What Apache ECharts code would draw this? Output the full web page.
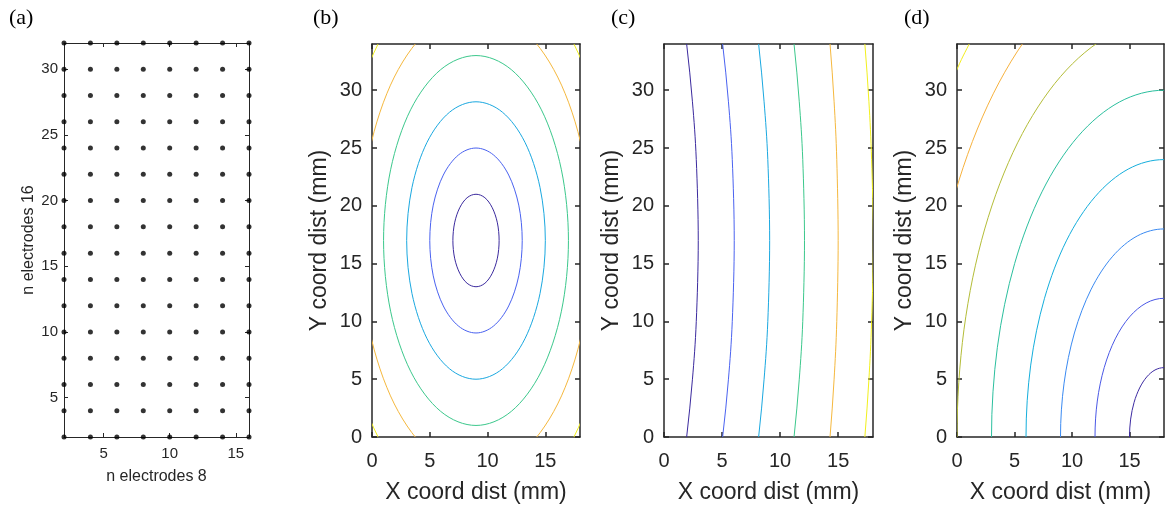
<!DOCTYPE html>
<html><head><meta charset="utf-8">
<script src="https://cdn.jsdelivr.net/npm/echarts@6/dist/echarts.min.js"></script>
<style>html,body{margin:0;padding:0;background:#fff}#c{width:1168px;height:506px}</style>
</head><body><div id="c"></div>
<script>
// ---------- data ----------
const electrodeX = [2, 4, 6, 8, 10, 12, 14, 16];
const electrodeY = [2, 4, 6, 8, 10, 12, 14, 16, 18, 20, 22, 24, 26, 28, 30, 32];
const aTicksX = [5, 10, 15];
const aTicksY = [5, 10, 15, 20, 25, 30];
const distTicksX = [0, 5, 10, 15];
const distTicksY = [0, 5, 10, 15, 20, 25, 30];
const panelLabels = ['(a)', '(b)', '(c)', '(d)'];

// panel (b): closed contours around (9,17)
const bContour1 = [[11,17],[10.85,18.53],[10.41,19.83],[9.77,20.7],[9,21],[8.23,20.7],[7.59,19.83],[7.15,18.53],[7,17],[7.15,15.47],[7.59,14.17],[8.23,13.3],[9,13],[9.77,13.3],[10.41,14.17],[10.85,15.47],[11,17]];
const bContour2 = [[13,17],[12.7,20.06],[11.83,22.66],[10.53,24.39],[9,25],[7.47,24.39],[6.17,22.66],[5.3,20.06],[5,17],[5.3,13.94],[6.17,11.34],[7.47,9.61],[9,9],[10.53,9.61],[11.83,11.34],[12.7,13.94],[13,17]];
const bContour3 = [[15,17],[14.54,21.59],[13.24,25.49],[11.3,28.09],[9,29],[6.7,28.09],[4.76,25.49],[3.46,21.59],[3,17],[3.46,12.41],[4.76,8.51],[6.7,5.91],[9,5],[11.3,5.91],[13.24,8.51],[14.54,12.41],[15,17]];
const bContour4 = [[17,17],[16.39,23.12],[14.66,28.31],[12.06,31.78],[9,33],[5.94,31.78],[3.34,28.31],[1.61,23.12],[1,17],[1.61,10.88],[3.34,5.69],[5.94,2.22],[9,1],[12.06,2.22],[14.66,5.69],[16.39,10.88],[17,17]];
const bContour5 = [[19,17],[18.24,24.65],[16.07,31.14],[12.83,35.48],[9,37],[5.17,35.48],[1.93,31.14],[-0.24,24.65],[-1,17],[-0.24,9.35],[1.93,2.86],[5.17,-1.48],[9,-3],[12.83,-1.48],[16.07,2.86],[18.24,9.35],[19,17]];
const bContour6UL = [[2.05,36.5],[1.29,35.38],[0.51,33.97],[-0.19,32.43],[-0.83,30.77],[-1.4,29]];
const bContour6UR = [[15.95,36.5],[16.71,35.38],[17.49,33.97],[18.19,32.43],[18.83,30.77],[19.4,29]];
const bContour6LL = [[2.05,-2.5],[1.29,-1.38],[0.51,0.03],[-0.19,1.57],[-0.83,3.23],[-1.4,5]];
const bContour6LR = [[15.95,-2.5],[16.71,-1.38],[17.49,0.03],[18.19,1.57],[18.83,3.23],[19.4,5]];

// panel (c): near-vertical contours (ends continue just past the frame)
const cContour1 = [[1.28,-5],[1.95,0],[2.45,5],[2.78,10],[2.95,17],[2.78,24],[2.45,29],[1.95,34],[1.28,39]];
const cContour2 = [[4.38,-5],[5.05,0],[5.55,5],[5.88,10],[6.05,17],[5.88,24],[5.55,29],[5.05,34],[4.38,39]];
const cContour3 = [[7.51,-5],[8.15,0],[8.62,5],[8.94,10],[9.1,17],[8.94,24],[8.62,29],[8.15,34],[7.51,39]];
const cContour4 = [[10.59,-5],[11.2,0],[11.65,5],[11.95,10],[12.1,17],[11.95,24],[11.65,29],[11.2,34],[10.59,39]];
const cContour5 = [[13.83,-5],[14.3,0],[14.65,5],[14.88,10],[15.0,17],[14.88,24],[14.65,29],[14.3,34],[13.83,39]];
const cContour6 = [[16.86,-5],[17.3,0],[17.65,5],[17.88,10],[18.03,17],[17.88,24],[17.65,29],[17.3,34],[16.86,39]];

// panel (d): contours around the lower-right corner (18,0)
const dContour1 = [[18.78,5.8],[18,6],[17.22,5.8],[16.5,5.2],[15.88,4.24],[15.4,3],[15.1,1.55],[15,0],[15.1,-1.55]];
const dContour2 = [[19.55,11.59],[18,12],[16.45,11.59],[15,10.39],[13.76,8.49],[12.8,6],[12.2,3.11],[12,0],[12.2,-3.11]];
const dContour3 = [[20.33,17.39],[18,18],[15.67,17.39],[13.5,15.59],[11.64,12.73],[10.21,9],[9.31,4.66],[9,0],[9.31,-4.66]];
const dContour4 = [[21.11,23.18],[18,24],[14.89,23.18],[12,20.78],[9.51,16.97],[7.61,12],[6.41,6.22],[6,0],[6.41,-6.22]];
const dContour5 = [[21.88,28.98],[18,30],[14.12,28.98],[10.5,25.98],[7.39,21.21],[5.01,15],[3.51,7.76],[3,0],[3.51,-7.76]];
const dContour6 = [[22.66,34.78],[18,36],[13.34,34.78],[9,31.18],[5.27,25.45],[2.41,18],[0.61,9.32],[0,0],[0.61,-9.32]];
const dContour7 = [[18,42],[12.56,40.57],[7.5,36.37],[3.15,29.69],[-0.19,21],[-2.29,10.87],[-3,0]];
const dContour8 = [[18,48],[11.78,46.37],[6,41.57],[2.57,36.77],[1.03,33.94],[-0.38,30.85],[-2.78,24],[-5.18,12.43],[-6,0]];

// ---------- styles ----------
const FONT = '"Liberation Sans", Arial, Helvetica, sans-serif';
const INK = '#262626';
const palette6 = ['#3b2a9e', '#4a62f0', '#1aa8e0', '#3cc88c', '#f5b83e', '#f2f01c'];
const palette8 = ['#3d2ba2', '#4a58e6', '#3a8af2', '#14aedc', '#2bbf9e', '#b4bd38', '#f7b23e', '#f3ee1e'];

const gridBoxes = [
  {left: 64, top: 43, width: 185, height: 394},
  {left: 372, top: 44, width: 208, height: 393},
  {left: 664, top: 44, width: 209, height: 393},
  {left: 957, top: 44, width: 207, height: 393}
];
const grids = gridBoxes.map(b => Object.assign({containLabel: false, outerBoundsMode: 'none'}, b));

const xAxes = [], yAxes = [];
function addAxes(g, xr, yr, xt, yt, st) {
  const line = {show: true, onZero: false, lineStyle: {color: INK, width: st.lw}};
  const tick = (vals) => ({show: true, inside: true, length: st.tl, customValues: vals, lineStyle: {color: INK, width: st.lw}});
  xAxes.push({type: 'value', gridIndex: g, position: 'bottom', min: xr[0], max: xr[1],
    axisLine: line, axisTick: tick(xt), splitLine: {show: false},
    axisLabel: {show: true, customValues: xt, margin: st.xm, fontSize: st.fs, color: INK, fontFamily: FONT,
      alignMinLabel: 'center', alignMaxLabel: 'center', hideOverlap: false},
    name: st.xname, nameLocation: 'middle', nameGap: st.xng,
    nameTextStyle: {fontSize: st.nfs, color: INK, fontFamily: FONT}});
  xAxes.push({type: 'value', gridIndex: g, position: 'top', min: xr[0], max: xr[1],
    axisLine: line, axisTick: tick(xt), splitLine: {show: false}, axisLabel: {show: false}});
  yAxes.push({type: 'value', gridIndex: g, position: 'left', min: yr[0], max: yr[1],
    axisLine: line, axisTick: tick(yt), splitLine: {show: false},
    axisLabel: {show: true, customValues: yt, margin: st.ym, fontSize: st.fs, color: INK, fontFamily: FONT,
      verticalAlignMinLabel: 'middle', verticalAlignMaxLabel: 'middle', hideOverlap: false},
    name: st.yname, nameLocation: 'middle', nameGap: st.yng, nameRotate: 90,
    nameTextStyle: {fontSize: st.nfs, color: INK, fontFamily: FONT}});
  yAxes.push({type: 'value', gridIndex: g, position: 'right', min: yr[0], max: yr[1],
    axisLine: line, axisTick: tick(yt), splitLine: {show: false}, axisLabel: {show: false}});
}
addAxes(0, [2, 16], [2, 32], aTicksX, aTicksY,
  {lw: 1, tl: 4, xm: 9, ym: 6, fs: 15, nfs: 16, xname: 'n electrodes 8', yname: 'n electrodes 16', xng: 32, yng: 27});
for (let g = 1; g <= 3; g++) {
  addAxes(g, [0, 18], [0, 34], distTicksX, distTicksY,
    {lw: 1.5, tl: 5, xm: 14, ym: 10, fs: 20, nfs: 23, xname: 'X coord dist (mm)', yname: 'Y coord dist (mm)', xng: 44, yng: 41});
}

const series = [];
const dots = [];
electrodeX.forEach(x => electrodeY.forEach(y => dots.push([x, y])));
series.push({type: 'scatter', xAxisIndex: 0, yAxisIndex: 0, data: dots, symbolSize: 5,
  itemStyle: {color: '#000'}, clip: false, silent: true, z: 5});

// contour curve: a smooth spline drawn through the read points, in the axis coordinates
function addContour(g, pts, color) {
  const closed = pts[0][0] === pts[pts.length - 1][0] && pts[0][1] === pts[pts.length - 1][1];
  series.push({
    type: 'custom', xAxisIndex: 2 * g, yAxisIndex: 2 * g, data: pts, silent: true, z: 3,
    renderItem: function (params, api) {
      if (params.dataIndex !== 0) return null;
      const p = pts.map(v => api.coord(v));
      const n = p.length;
      const get = i => {
        if (closed) { const m = n - 1; return p[((i % m) + m) % m]; }
        return p[Math.max(0, Math.min(n - 1, i))];
      };
      const children = [];
      for (let i = 0; i < n - 1; i++) {
        const p0 = get(i - 1), p1 = get(i), p2 = get(i + 1), p3 = get(i + 2);
        children.push({type: 'bezierCurve', shape: {
          x1: p1[0], y1: p1[1], x2: p2[0], y2: p2[1],
          cpx1: p1[0] + (p2[0] - p0[0]) / 6, cpy1: p1[1] + (p2[1] - p0[1]) / 6,
          cpx2: p2[0] - (p3[0] - p1[0]) / 6, cpy2: p2[1] - (p3[1] - p1[1]) / 6},
          style: {stroke: color, lineWidth: 1, fill: null}});
      }
      const cs = params.coordSys;
      return {type: 'group', children: children,
        clipPath: {type: 'rect', shape: {x: cs.x, y: cs.y, width: cs.width, height: cs.height}}};
    }
  });
}
[bContour1, bContour2, bContour3, bContour4, bContour5].forEach((d, i) => addContour(1, d, palette6[i]));
[bContour6UL, bContour6UR, bContour6LL, bContour6LR].forEach(d => addContour(1, d, palette6[5]));
[cContour1, cContour2, cContour3, cContour4, cContour5, cContour6].forEach((d, i) => addContour(2, d, palette6[i]));
[dContour1, dContour2, dContour3, dContour4, dContour5, dContour6, dContour7, dContour8].forEach((d, i) => addContour(3, d, palette8[i]));

const labelLeft = [9, 313, 611, 904];
const titles = panelLabels.map((t, i) => ({text: t, left: labelLeft[i], top: 7, padding: 0,
  textStyle: {fontFamily: '"Liberation Serif", "Times New Roman", serif', fontWeight: 'normal', fontSize: 22, color: '#000'}}));

const chart = echarts.init(document.getElementById('c'), null, {renderer: 'canvas'});
chart.setOption({
  animation: false,
  backgroundColor: '#fff',
  title: titles,
  grid: grids,
  xAxis: xAxes,
  yAxis: yAxes,
  series: series
});
</script>
</body></html>
